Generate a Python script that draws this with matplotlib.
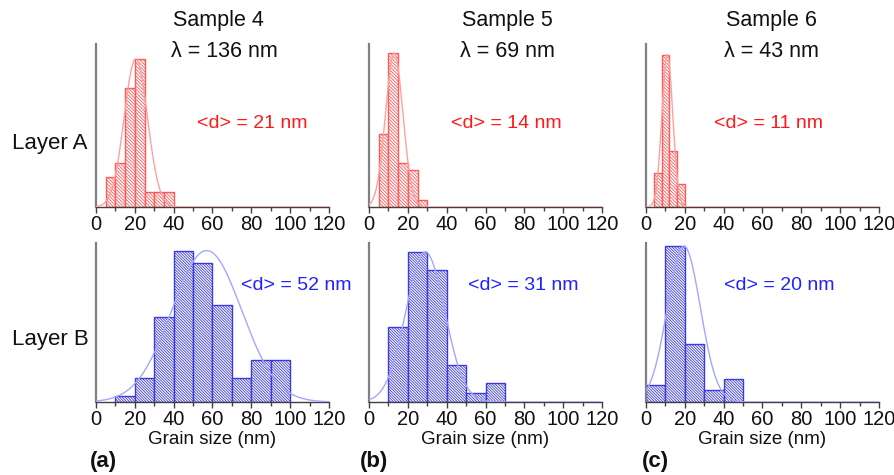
import numpy as np
import matplotlib
matplotlib.use("Agg")
import matplotlib.pyplot as plt
from matplotlib.ticker import MultipleLocator

plt.rcParams['font.family'] = ['Liberation Sans', 'DejaVu Sans']
plt.rcParams['hatch.linewidth'] = 0.6

# ---------------- data ----------------
samples = ["Sample 4", "Sample 5", "Sample 6"]
wavelengths = ["λ = 136 nm", "λ = 69 nm", "λ = 43 nm"]
panel_labels = ["(a)", "(b)", "(c)"]
layers = ["Layer A", "Layer B"]

# Layer A histograms (bin edges in nm, counts)
edges_A4 = [5, 10, 15, 20, 25, 30, 35, 40]
counts_A4 = [2, 3, 8, 10, 1, 1, 1]
edges_A5 = [5, 10, 15, 20, 25, 30]
counts_A5 = [10, 21, 6, 5, 1]
edges_A6 = [4, 8, 12, 16, 20]
counts_A6 = [6, 27, 10, 4]

# Layer B histograms
edges_B4 = [10, 20, 30, 40, 50, 60, 70, 80, 90, 100]
counts_B4 = [1, 4, 14, 25, 23, 16, 4, 7, 7]
edges_B5 = [10, 20, 30, 40, 50, 60, 70]
counts_B5 = [8.5, 17, 15, 4.2, 1, 2.1]
edges_B6 = [0, 10, 20, 30, 40, 50]
counts_B6 = [3, 27, 10, 2, 4]

# Gaussian fits (mean, sigma, peak height)
fit_A4 = (20.5, 6.0, 10)
fit_A5 = (13.0, 4.5, 21)
fit_A6 = (11.0, 2.8, 27)
fit_B4 = (57.0, 18.0, 25)
fit_B5 = (29.0, 10.0, 17)
fit_B6 = (19.5, 8.5, 27)

mean_labels_A = ["<d> = 21 nm", "<d> = 14 nm", "<d> = 11 nm"]
mean_labels_B = ["<d> = 52 nm", "<d> = 31 nm", "<d> = 20 nm"]

xticks = [0, 20, 40, 60, 80, 100, 120]
xlabel = "Grain size (nm)"

# ---------------- layout ----------------
W, H = 895, 475
fig = plt.figure(figsize=(W / 100, H / 100), dpi=100)

col_x = [(96, 329), (369, 602), (646, 879)]
row_y = [(44, 207), (243, 402)]
headroom = [[1.10, 1.06, 1.07], [1.05, 1.06, 1.02]]

red_edge = '#ff5a5a'
red_curve = '#ffa0a0'
red_text = '#ff1a1a'
blue_edge = '#3a3ae0'
blue_curve = '#a5a5ff'
blue_text = '#2222ff'

hist_data = [
    [(edges_A4, counts_A4, fit_A4), (edges_A5, counts_A5, fit_A5), (edges_A6, counts_A6, fit_A6)],
    [(edges_B4, counts_B4, fit_B4), (edges_B5, counts_B5, fit_B5), (edges_B6, counts_B6, fit_B6)],
]

def fx(px):
    return px / W

def fy(py):
    return 1 - py / H

xs = np.linspace(0, 120, 600)
for r in range(2):
    for c in range(3):
        x0, x1 = col_x[c]
        y0, y1 = row_y[r]
        ax = fig.add_axes([fx(x0), fy(y1), (x1 - x0) / W, (y1 - y0) / H])
        edges, counts, fit = hist_data[r][c]
        edges = np.array(edges, dtype=float)
        if r == 0:
            ec, cc, hatch = red_edge, red_curve, '\\' * 10
        else:
            ec, cc, hatch = blue_edge, blue_curve, '\\' * 12
        ax.bar(edges[:-1], counts, width=np.diff(edges), align='edge',
               facecolor='white', edgecolor=ec, hatch=hatch, linewidth=1.0, zorder=2)
        mu, sd, amp = fit
        ax.plot(xs, amp * np.exp(-(xs - mu) ** 2 / (2 * sd ** 2)), color=cc,
                lw=1.0, zorder=3)
        ax.set_xlim(0, 120)
        ax.set_ylim(0, max(counts) * headroom[r][c])
        for s in ['top', 'right']:
            ax.spines[s].set_visible(False)
        ax.spines['left'].set_color('#808080')
        ax.spines['left'].set_linewidth(1.6)
        ax.spines['bottom'].set_color('#404040')
        ax.spines['bottom'].set_linewidth(1.0)
        ax.set_yticks([])
        ax.set_xticks(xticks)
        ax.xaxis.set_minor_locator(MultipleLocator(10))
        ax.tick_params(axis='x', which='major', direction='out', length=4.5,
                       width=1.0, color='#404040', labelsize=14.5, pad=1.5,
                       labelcolor='#111111')
        ax.tick_params(axis='x', which='minor', direction='out', length=3,
                       width=1.0, color='#404040')
        ax.patch.set_alpha(0)

# titles
title_cx = [218, 507, 771]
for c in range(3):
    fig.text(fx(title_cx[c]), fy(26), samples[c], ha='center', va='baseline',
             fontsize=15.5, color='#111111')
    fig.text(fx(title_cx[c] + (6 if c == 0 else 0)), fy(57), wavelengths[c],
             ha='center', va='baseline', fontsize=15.5, color='#111111')

# mean labels
meanA_cx = [252, 506, 769]
meanB_cx = [296, 523, 779]
for c in range(3):
    fig.text(fx(meanA_cx[c]), fy(123), mean_labels_A[c], ha='center', va='center',
             fontsize=14, color=red_text)
    fig.text(fx(meanB_cx[c]), fy(285), mean_labels_B[c], ha='center', va='center',
             fontsize=14, color=blue_text)

# layer labels
fig.text(fx(12), fy(143), layers[0], ha='left', va='center', fontsize=16, color='#111111')
fig.text(fx(12), fy(339), layers[1], ha='left', va='center', fontsize=16, color='#111111')

# x labels and panel labels
panel_x = [90, 360, 642]
for c in range(3):
    x0, x1 = col_x[c]
    fig.text(fx((x0 + x1) / 2), fy(439), xlabel, ha='center', va='center',
             fontsize=13.5, color='#111111')
    fig.text(fx(panel_x[c]), fy(461), panel_labels[c], ha='left', va='center',
             fontsize=16, fontweight='bold', color='#111111')

fig.savefig("out.png", dpi=100)
